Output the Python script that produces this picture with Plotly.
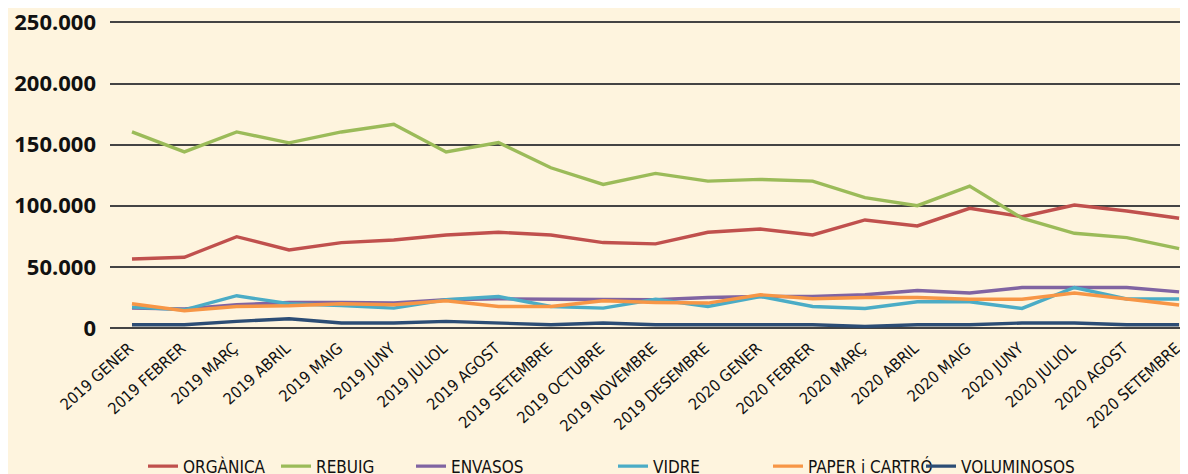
import plotly.graph_objects as go

months = ["2019 GENER", "2019 FEBRER", "2019 MARÇ", "2019 ABRIL", "2019 MAIG", "2019 JUNY",
          "2019 JULIOL", "2019 AGOST", "2019 SETEMBRE", "2019 OCTUBRE", "2019 NOVEMBRE",
          "2019 DESEMBRE", "2020 GENER", "2020 FEBRER", "2020 MARÇ", "2020 ABRIL", "2020 MAIG",
          "2020 JUNY", "2020 JULIOL", "2020 AGOST", "2020 SETEMBRE"]

organica = [56500, 57900, 74700, 63900, 69900, 72000, 76100, 78300, 76100, 69900, 68800,
            78300, 81000, 76100, 88400, 83500, 97900, 91100, 100600, 95700, 89800]
rebuig = [160400, 144100, 160400, 151500, 160400, 166700, 144100, 151800, 131100, 117500, 126500,
          120200, 121600, 120200, 106600, 100100, 116100, 89800, 77500, 73900, 65000]
envasos = [16300, 15500, 19000, 20900, 20900, 20400, 23100, 23900, 23500, 23500, 23100,
           25000, 25800, 25800, 27200, 30700, 28600, 33100, 33100, 33100, 29600]
vidre = [17100, 14900, 26400, 19800, 18400, 16300, 23100, 25800, 17600, 16300, 23500,
         17600, 25800, 17600, 16000, 21500, 21500, 16000, 33100, 23700, 23700]
paper = [19800, 14100, 17600, 18200, 19800, 19000, 22300, 17600, 17600, 22300, 20900,
         20400, 27200, 23900, 25000, 25000, 23500, 23500, 28600, 23500, 18800]
voluminosos = [2700, 2700, 5400, 7600, 4100, 4100, 5400, 4100, 2700, 4100, 2700,
               2700, 2700, 2700, 1300, 2700, 2700, 4100, 4100, 2700, 2700]

series = [
    ("ORGÀNICA", organica, "#c0504d"),
    ("REBUIG", rebuig, "#9bbb59"),
    ("ENVASOS", envasos, "#8064a2"),
    ("VIDRE", vidre, "#4bacc6"),
    ("PAPER i CARTRÓ", paper, "#f79646"),
    ("VOLUMINOSOS", voluminosos, "#2c4d75"),
]

# legend line start positions (screen px) for each entry
legend_starts = [150, 283, 418, 620, 775, 928]

bg = "#fef4de"
cond = "Liberation Sans Narrow, DejaVu Sans Condensed, sans-serif"

YMAX = 252000
PH = 306 * YMAX / 250000
L, PW = 102, 1078
T = 328 - 8 - PH

fig = go.Figure()
legends = {}
for i, ((name, vals, col), ls) in enumerate(zip(series, legend_starts)):
    key = "legend" if i == 0 else f"legend{i + 1}"
    fig.add_trace(go.Scatter(x=list(range(len(months))), y=vals, name=name, mode="lines",
                             line=dict(color=col, width=3.4), legend=key))
    legends[key] = dict(orientation="h", x=(ls - 7 - 110) / PW, xanchor="left",
                        y=-0.45, yanchor="middle", bgcolor="rgba(0,0,0,0)",
                        font=dict(family=cond, size=17, color="#111111"))

fig.update_layout(
    width=1180, height=466,
    paper_bgcolor=bg, plot_bgcolor=bg,
    margin=dict(l=L, r=0, t=T, b=466 - T - PH, autoexpand=False),
    separators=",.",
    showlegend=True,
    xaxis=dict(range=[-0.42, 20.17], tickmode="array", tickvals=list(range(len(months))),
               ticktext=months, tickangle=-42, showgrid=False, zeroline=False,
               showline=False, ticks="", automargin=False, ticklabelstandoff=7,
               ticklabelshift=-3, ticklabeloverflow="allow",
               tickfont=dict(family=cond, size=16, color="#111111")),
    yaxis=dict(range=[0, YMAX], tickvals=[0, 50000, 100000, 150000, 200000, 250000],
               tickformat=",d", showgrid=True,
               gridcolor="#444444", gridwidth=1.6, zeroline=True, zerolinecolor="#444444",
               zerolinewidth=1.6, showline=False, ticks="", automargin=False,
               ticklabelstandoff=13, ticklabeloverflow="allow",
               tickfont=dict(family="Open Sans, sans-serif", size=22, color="#111111", weight="bold")),
    **legends,
)

fig.write_html("out.html")
